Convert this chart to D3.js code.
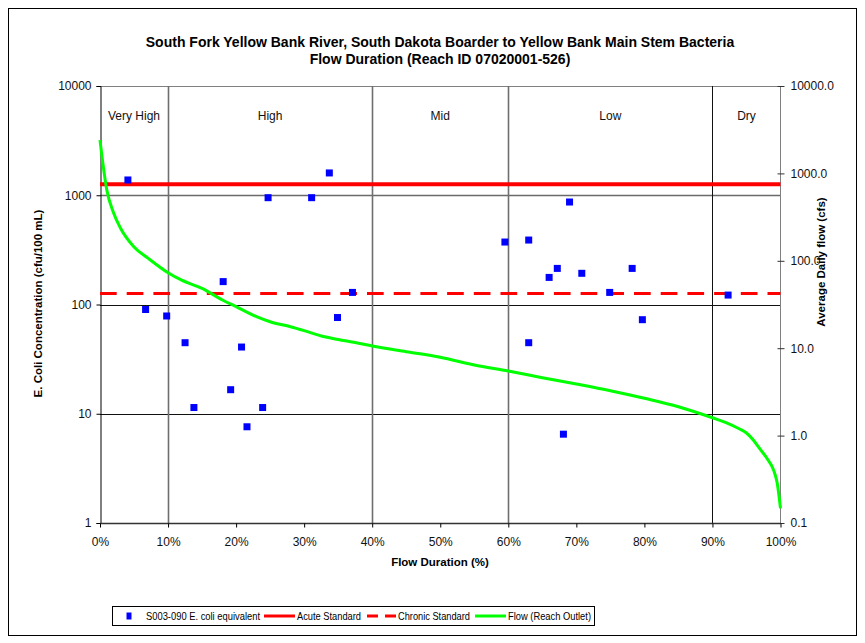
<!DOCTYPE html>
<html><head><meta charset="utf-8">
<script src="https://cdn.jsdelivr.net/npm/d3@7"></script>
<style>body{margin:0;background:#fff}svg{display:block;font-family:Arial,"Liberation Sans",sans-serif}</style>
</head><body><svg id="c" width="865" height="643"></svg>
<script>
// ---- data ----
const titleLines = ["South Fork Yellow Bank River, South Dakota Boarder to Yellow Bank Main Stem Bacteria", "Flow Duration (Reach ID 07020001-526)"];
const zoneNames = ["Very High", "High", "Mid", "Low", "Dry"];
const zoneBreaks = [0, 10, 40, 60, 90, 100];
const xTicks = [0, 10, 20, 30, 40, 50, 60, 70, 80, 90, 100];
const leftTicks = [1, 10, 100, 1000, 10000];
const rightTicks = [0.1, 1, 10, 100, 1000, 10000];
const sampleX = [4.1, 6.7, 9.8, 12.5, 13.8, 18.1, 19.2, 20.8, 21.6, 23.9, 24.7, 31.1, 33.7, 34.9, 37.1,
  59.5, 63.0, 63.0, 66.0, 67.2, 68.1, 69.0, 70.8, 74.9, 78.2, 79.7, 92.3];
const sampleY = [1380, 90, 78.5, 44.7, 11.4, 162, 16.6, 40.8, 7.6, 11.4, 950, 950, 1600, 76, 129,
  373, 389, 44.7, 177, 214, 6.5, 867, 193, 129, 214, 72.6, 122];
const acuteStandard = 1260;
const chronicStandard = 126;
const flowX = [0, 1, 2, 3, 5, 7, 10, 12, 15, 18, 20, 23, 25, 28, 30, 33, 35, 38, 40, 45, 50, 55, 60, 65, 70, 75, 80, 85, 90, 92, 94, 95, 96, 97, 98, 99, 99.5, 100];
const flowY = [2400, 646, 352, 237, 144, 108, 73, 60, 48.4, 35.6, 29.9, 23.0, 20.1, 17.6, 15.9, 13.5, 12.6, 11.4, 10.6, 9.12, 7.87, 6.42, 5.48, 4.60, 3.89, 3.26, 2.67, 2.14, 1.60, 1.41, 1.19, 1.07, 0.89, 0.70, 0.55, 0.40, 0.29, 0.147];
const legendLabels = ["S003-090 E. coli equivalent", "Acute Standard", "Chronic Standard", "Flow (Reach Outlet)"];

// ---- layout ----
const FONT = "Arial, Liberation Sans, sans-serif";
const svg = d3.select("#c");
const L = 100, R = 780.5, T = 86, B = 523;
const x = d3.scaleLinear().domain([0, 100]).range([L, R]);
const yL = d3.scaleLog().domain([1, 10000]).range([B, T]);
const yR = d3.scaleLog().domain([0.1, 10000]).range([B, T]);

// outer border
svg.append("rect").attr("x", 8.5).attr("y", 8.5).attr("width", 848).attr("height", 627)
  .attr("fill", "none").attr("stroke", "#000").attr("stroke-width", 1);

// title
svg.append("text").attr("x", 440).attr("y", 47).attr("text-anchor", "middle")
  .attr("font-weight", "bold").attr("font-size", 14).text(titleLines[0]);
svg.append("text").attr("x", 440).attr("y", 64).attr("text-anchor", "middle")
  .attr("font-weight", "bold").attr("font-size", 14).text(titleLines[1]);

// horizontal grid
svg.append("g").selectAll("line").data([10, 100, 1000]).join("line")
  .attr("x1", L).attr("x2", R).attr("y1", d => Math.round(yL(d)) + 0.5).attr("y2", d => Math.round(yL(d)) + 0.5)
  .attr("stroke", d => d === 1000 ? "#6a6a6a" : "#111").attr("stroke-width", d => d === 1000 ? 1.6 : 1);
// top edge
svg.append("line").attr("x1", L).attr("x2", R).attr("y1", T + 0.5).attr("y2", T + 0.5).attr("stroke", "#808080");

// zone dividers
svg.append("g").selectAll("line").data(zoneBreaks.slice(1, -1)).join("line")
  .attr("x1", d => Math.round(x(d)) + 0.5).attr("x2", d => Math.round(x(d)) + 0.5).attr("y1", T).attr("y2", B)
  .attr("stroke", (d, i) => i < 3 ? "#6f6f6f" : "#111").attr("stroke-width", (d, i) => i < 3 ? 1.6 : 1);

// zone labels
svg.append("g").selectAll("text").data(zoneNames).join("text")
  .attr("x", (d, i) => x((zoneBreaks[i] + zoneBreaks[i + 1]) / 2)).attr("y", 120)
  .attr("text-anchor", "middle").attr("font-size", 12).attr("fill", "#111").text(d => d);

// axes
const axL = d3.axisLeft(yL).tickValues(leftTicks).tickFormat(d => String(d)).tickSize(4).tickPadding(5);
const gL = svg.append("g").attr("transform", `translate(${L + 0.5},0)`).call(axL);
gL.select(".domain").attr("stroke", "#000");
gL.selectAll("text").attr("font-size", 12).attr("fill", "#111").attr("font-family", FONT);

const axR = d3.axisRight(yR).tickValues(rightTicks).tickFormat(d => d3.format(".1f")(d)).tickSize(4).tickPadding(6);
const gR = svg.append("g").attr("transform", `translate(${R},0)`).call(axR);
gR.select(".domain").attr("stroke", "#808080").attr("d", `M0,${T}V${B}`);
gR.selectAll(".tick line").attr("x1", -3).attr("stroke", "#333");
gR.selectAll("text").attr("font-size", 12).attr("fill", "#111").attr("font-family", FONT);

const axB = d3.axisBottom(x).tickValues(xTicks).tickFormat(d => d + "%").tickSize(4).tickPadding(10);
const gB = svg.append("g").attr("transform", `translate(0,${B + 0.5})`).call(axB);
gB.select(".domain").attr("stroke", "#333").attr("stroke-width", 1.5).attr("d", `M${L},0H${R}`);
gB.selectAll("text").attr("font-size", 12).attr("fill", "#111").attr("font-family", FONT);

// axis titles
svg.append("text").attr("transform", `translate(42,303.5) rotate(-90)`).attr("text-anchor", "middle")
  .attr("font-weight", "bold").attr("font-size", 11.5).text("E. Coli Concentration (cfu/100 mL)");
svg.append("text").attr("transform", `translate(825,262) rotate(-90)`).attr("text-anchor", "middle")
  .attr("font-weight", "bold").attr("font-size", 11.5).text("Average Daily flow (cfs)");
svg.append("text").attr("x", 440).attr("y", 566).attr("text-anchor", "middle")
  .attr("font-weight", "bold").attr("font-size", 11.5).text("Flow Duration (%)");

// standards
svg.append("line").attr("x1", L).attr("x2", R).attr("y1", yL(acuteStandard)).attr("y2", yL(acuteStandard))
  .attr("stroke", "#ff0000").attr("stroke-width", 4);
svg.append("line").attr("x1", L).attr("x2", R).attr("y1", yL(chronicStandard)).attr("y2", yL(chronicStandard))
  .attr("stroke", "#ff0000").attr("stroke-width", 3).attr("stroke-dasharray", "16.7,10");

// flow curve
const flow = flowX.map((d, i) => [d, flowY[i]]);
svg.append("path").datum(flow)
  .attr("d", d3.line().x(d => x(d[0])).y(d => yR(d[1])).curve(d3.curveMonotoneX))
  .attr("fill", "none").attr("stroke", "#00ff00").attr("stroke-width", 3);

// samples
const samples = sampleX.map((d, i) => [d, sampleY[i]]);
svg.append("g").selectAll("rect").data(samples).join("rect")
  .attr("x", d => x(d[0]) - 3.5).attr("y", d => yL(d[1]) - 3.5).attr("width", 7).attr("height", 7)
  .attr("fill", "#0000ff");

// legend
const lg = svg.append("g");
lg.append("rect").attr("x", 112.5).attr("y", 606.5).attr("width", 482).attr("height", 19)
  .attr("fill", "#fff").attr("stroke", "#000");
const ly = 616;
lg.append("rect").attr("x", 126.5).attr("y", ly - 3.5).attr("width", 5).attr("height", 7).attr("fill", "#0000ff");
lg.append("line").attr("x1", 264).attr("x2", 295).attr("y1", ly).attr("y2", ly).attr("stroke", "#ff0000").attr("stroke-width", 3);
lg.append("line").attr("x1", 367).attr("x2", 396).attr("y1", ly).attr("y2", ly).attr("stroke", "#ff0000").attr("stroke-width", 3).attr("stroke-dasharray", "11,7");
lg.append("line").attr("x1", 475).attr("x2", 506).attr("y1", ly).attr("y2", ly).attr("stroke", "#00ff00").attr("stroke-width", 3);
const lx = [146, 297, 398, 508];
const lw = [114, 64, 72, 83];
lg.selectAll("text.l").data(legendLabels).join("text").attr("class", "l")
  .attr("x", (d, i) => lx[i]).attr("y", ly + 4).attr("font-size", 11).attr("fill", "#000")
  .attr("textLength", (d, i) => lw[i]).attr("lengthAdjust", "spacingAndGlyphs").text(d => d);
</script></body></html>
